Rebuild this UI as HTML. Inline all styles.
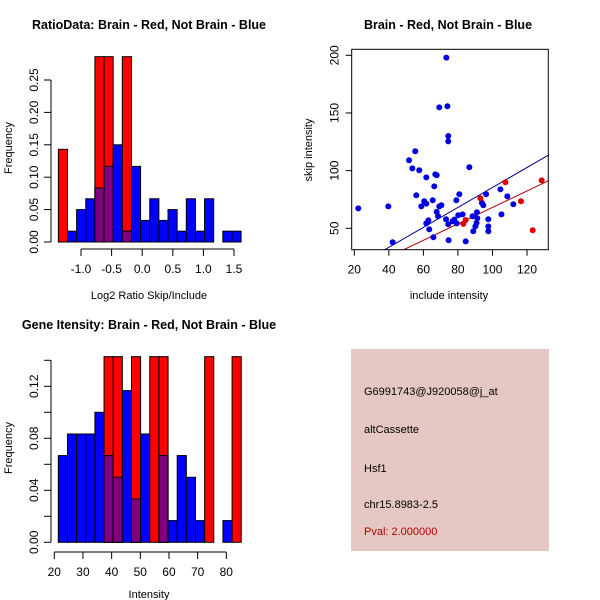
<!DOCTYPE html>
<html><head><meta charset="utf-8"><style>
body{margin:0;background:#fff}
svg{display:block;font-family:"Liberation Sans",sans-serif}
</style></head><body>
<svg id="s" width="600" height="600" xmlns="http://www.w3.org/2000/svg">
<rect x="0" y="0" width="600" height="600" fill="#fff"/>
<g id="p1"></g>
<g id="p2"></g>
<g id="p3"></g>
<g font-size="11">
<rect x="351" y="349" width="198" height="202" fill="#e6c8c2"/>
<text x="364" y="395">G6991743@J920058@j_at</text>
<text x="364" y="433">altCassette</text>
<text x="364" y="472">Hsf1</text>
<text x="364" y="508">chr15.8983-2.5</text>
<text x="364" y="535" fill="#b00000">Pval: 2.000000</text>
</g>
</svg>
<script>
// Ratio histogram
const ratioBinStart = -1.37, ratioBinWidth = 0.1493;
const ratioRed = [0.143,0,0,0,0.286,0.286,0,0.286,0,0,0,0,0,0,0,0,0,0,0,0];
const ratioBlue = [0,0.0167,0.05,0.0667,0.0833,0.1167,0.15,0.0167,0.1167,0.0333,0.0667,0.0333,0.05,0.0167,0.0667,0.0167,0.0667,0,0.0167,0.0167];
const ratioXTicks = [-1.0,-0.5,0.0,0.5,1.0,1.5];
const ratioYTicks = [0,0.05,0.10,0.15,0.20,0.25];
// Intensity histogram
const intBinStart = 21.4, intBinWidth = 3.19;
const intRed = [0,0,0,0,0,0.1428,0.1428,0,0.1428,0,0.1428,0.1428,0,0,0,0,0.1428,0,0,0.1428];
const intBlue = [0.0667,0.0833,0.0833,0.0833,0.1,0.0667,0.05,0.1167,0.0333,0.0833,0,0.0667,0.0167,0.0667,0.05,0.0167,0,0,0.0167,0];
const intXTicks = [20,30,40,50,60,70,80];
const intYTicks = [0,0.02,0.04,0.06,0.08,0.10,0.12,0.14];
const intYLabels = ["0.00","","0.04","","0.08","","0.12",""];
// Scatter
const blueInc = [22.3,39.7,42.2,51.7,53.6,55.3,55.9,57.6,58.8,60.5,61.7,61.7,61.7,62.9,63.4,65.4,65.8,66.3,66.9,67.7,67.7,68.5,69.2,69.2,70.4,73.3,73.9,73.1,74.4,74.4,74.6,74.4,76.9,77.9,79.1,79.3,80.8,80.2,82.7,84.5,86.6,88.5,88.9,90.1,90.8,91.2,91,93.9,94.7,96.3,97.6,97.6,97.6,104.6,105.2,108.6,112.1];
const blueSkip = [67.3,69,37.9,109,102,116.8,78.6,100.3,69,73.4,94.2,71.4,54.3,56.9,49.1,74.3,42.2,86.4,96.8,96,64.2,60.4,154.9,69,70,198,155.8,57.8,130,125.4,39.6,53.5,56.1,57.5,74.3,54.3,79.5,61.3,62.1,38.7,102.9,60.4,47.4,51.7,54.6,58.7,63.9,72,70,79.5,57.8,51.7,47.4,83.8,62.1,77.7,70.8];
const redInc = [93,107.5,128.5,116.5,123.3,83.1,84.5];
const redSkip = [76,89.9,91.6,73.4,48.3,53.8,57.2];
const fitBlue = [0.865,-1.1]; // slope, intercept
const fitRed = [0.713,-3.2];
const scXTicks = [20,40,60,80,100,120];
const scYTicks = [50,100,150,200];

const NS="http://www.w3.org/2000/svg";
function mk(parent,tag,attrs,text){const e=document.createElementNS(NS,tag);for(const k in attrs)e.setAttribute(k,attrs[k]);if(text!==undefined)e.textContent=text;parent.appendChild(e);return e;}

function hist(g,o){
  const X=v=>o.x0+(v-o.xv0)*o.xs, Y=v=>o.y0-v*o.ys;
  for(let i=0;i<o.red.length;i++){
    const a=o.start+i*o.w,b=a+o.w;
    if(o.red[i]>0){const r=mk(g,'rect',{x:X(a),y:Y(o.red[i]),width:X(b)-X(a),height:Y(0)-Y(o.red[i]),fill:'#ff0000',stroke:'#000','stroke-width':1});
      
      }
    if(o.blue[i]>0){const r=mk(g,'rect',{x:X(a),y:Y(o.blue[i]),width:X(b)-X(a),height:Y(0)-Y(o.blue[i]),fill:'#0000ff',stroke:'#000','stroke-width':1});
      
      }
    const m=Math.min(o.red[i],o.blue[i]);
    if(m>0){const r=mk(g,'rect',{x:X(a),y:Y(m),width:X(b)-X(a),height:Y(0)-Y(m),fill:'#800080',stroke:'#000','stroke-width':1});
      
      }
  }
  // y axis
  const ya=o.yt;
  mk(g,'line',{x1:o.yax,x2:o.yax,y1:Y(ya[0]),y2:Y(ya[ya.length-1]),stroke:'#000'});
  ya.forEach((t,i)=>{mk(g,'line',{x1:o.yax-7,x2:o.yax,y1:Y(t),y2:Y(t),stroke:'#000'});
    const lab=o.yl?o.yl[i]:t.toFixed(2);
    if(lab){const tx=mk(g,'text',{x:0,y:0,'font-size':12,'text-anchor':'middle',transform:`translate(${o.yax-13},${Y(t)}) rotate(-90)`},lab);
      
      }});
  const xt=o.xt;
  mk(g,'line',{x1:X(xt[0]),x2:X(xt[xt.length-1]),y1:o.xay,y2:o.xay,stroke:'#000'});
  xt.forEach(t=>{mk(g,'line',{x1:X(t),x2:X(t),y1:o.xay,y2:o.xay+7,stroke:'#000'});
    const tx=mk(g,'text',{x:X(t),y:o.xay+24,'font-size':12,'text-anchor':'middle'},o.fmt(t));
    
    });
}
hist(document.getElementById('p1'),{x0:81,xv0:-1,xs:61.2,y0:242,ys:648,start:ratioBinStart,w:ratioBinWidth,red:ratioRed,blue:ratioBlue,yt:ratioYTicks,xt:ratioXTicks,yax:51,xay:249,fmt:t=>t.toFixed(1)});
hist(document.getElementById('p3'),{x0:54.3,xv0:20,xs:2.867,y0:542.3,ys:1300,start:intBinStart,w:intBinWidth,red:intRed,blue:intBlue,yt:intYTicks,yl:intYLabels,xt:intXTicks,yax:51,xay:552,fmt:t=>String(t)});

// scatter
(function(){
  const g=document.getElementById('p2');
  const L=351.7,R=548.3,T=49.3,B=249.7;
  const X=v=>354.3+(v-20)*1.727, Y=v=>55.3+(200-v)*1.1533;
  mk(g,'defs',{}).innerHTML='<clipPath id="cp"><rect x="'+L+'" y="'+T+'" width="'+(R-L)+'" height="'+(B-T)+'"/></clipPath>';
  const xa=(L-354.3)/1.727+20, xb=(R-354.3)/1.727+20;
  const bl=mk(g,'line',{x1:X(xa),y1:Y(fitBlue[0]*xa+fitBlue[1]),x2:X(xb),y2:Y(fitBlue[0]*xb+fitBlue[1]),stroke:'#00008b','clip-path':'url(#cp)'});
  
  
  const rl=mk(g,'line',{x1:X(xa),y1:Y(fitRed[0]*xa+fitRed[1]),x2:X(xb),y2:Y(fitRed[0]*xb+fitRed[1]),stroke:'#b00000','clip-path':'url(#cp)'});
  
  
  blueInc.forEach((v,i)=>{const c=mk(g,'circle',{cx:X(v),cy:Y(blueSkip[i]),r:3,fill:'#0000e0'});
    
    });
  redInc.forEach((v,i)=>{const c=mk(g,'circle',{cx:X(v),cy:Y(redSkip[i]),r:3,fill:'#e00000'});
    
    });
  mk(g,'rect',{x:L,y:T,width:R-L,height:B-T,fill:'none',stroke:'#000'});
  scXTicks.forEach(t=>{mk(g,'line',{x1:X(t),x2:X(t),y1:B,y2:B+6,stroke:'#000'});
    const tx=mk(g,'text',{x:X(t),y:B+24,'font-size':12,'text-anchor':'middle'},String(t));
    
    });
  scYTicks.forEach(t=>{mk(g,'line',{x1:L-6,x2:L,y1:Y(t),y2:Y(t),stroke:'#000'});
    const tx=mk(g,'text',{x:0,y:0,'font-size':12,'text-anchor':'middle',transform:`translate(${L-13},${Y(t)}) rotate(-90)`},String(t));
    
    });
})();
</script>
<svg width="600" height="600" style="position:absolute;left:0;top:0" xmlns="http://www.w3.org/2000/svg">
<g font-family="Liberation Sans,sans-serif">
<text x="149" y="29" font-size="12.5" font-weight="bold" text-anchor="middle">RatioData: Brain - Red, Not Brain - Blue</text>
<text x="149" y="299" font-size="11" text-anchor="middle">Log2 Ratio Skip/Include</text>
<text transform="translate(12,148) rotate(-90)" font-size="11" text-anchor="middle">Frequency</text>
<text x="448" y="29" font-size="12.5" font-weight="bold" text-anchor="middle">Brain - Red, Not Brain - Blue</text>
<text x="449" y="299" font-size="11" text-anchor="middle">include intensity</text>
<text transform="translate(312,150) rotate(-90)" font-size="11" text-anchor="middle">skip intensity</text>
<text x="149" y="329" font-size="12.5" font-weight="bold" text-anchor="middle">Gene Itensity: Brain - Red, Not Brain - Blue</text>
<text x="149" y="598" font-size="11" text-anchor="middle">Intensity</text>
<text transform="translate(12,448) rotate(-90)" font-size="11" text-anchor="middle">Frequency</text>
</g>
</svg>
</body></html>
